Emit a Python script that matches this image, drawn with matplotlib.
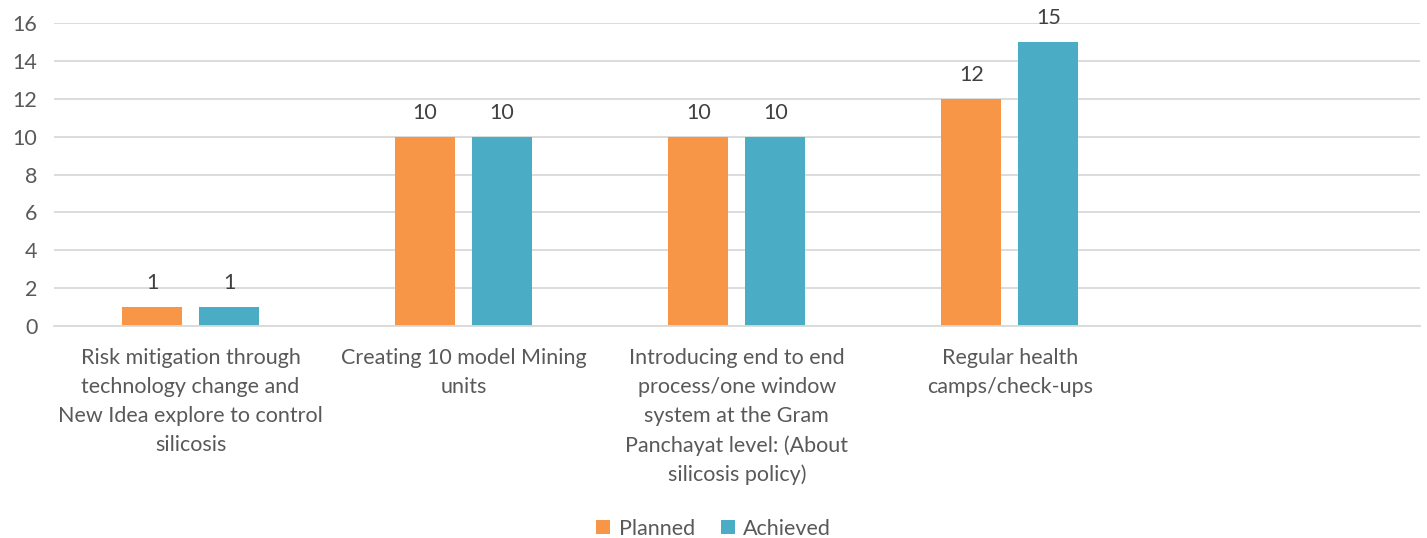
import matplotlib.pyplot as plt
import numpy as np

plt.rcParams['font.family'] = ['Lato', 'DejaVu Sans']

categories = ['Risk mitigation through\ntechnology change and\nNew Idea explore to control\nsilicosis',
              'Creating 10 model Mining\nunits',
              'Introducing end to end\nprocess/one window\nsystem at the Gram\nPanchayat level: (About\nsilicosis policy)',
              'Regular health\ncamps/check-ups',
              '']
planned = [1, 10, 10, 12, None]
achieved = [1, 10, 10, 15, None]

grey = '#595959'
fig = plt.figure(figsize=(14.27, 5.38), dpi=100)
ax = fig.add_axes([0.0378, 0.394, 0.957, 0.563])

x = np.arange(len(categories))
w = 0.22
off = 0.141
pv = [np.nan if v is None else v for v in planned]
av = [np.nan if v is None else v for v in achieved]
b1 = ax.bar(x - off, pv, w, color='#F79646', label='Planned')
b2 = ax.bar(x + off, av, w, color='#4BACC6', label='Achieved')

for bars, vals in [(b1, planned), (b2, achieved)]:
    for b, v in zip(bars, vals):
        if v is None:
            continue
        ax.text(b.get_x() + b.get_width() / 2, v + 0.75, str(v), ha='center', va='bottom',
                fontsize=15.5, color='#404040')

ax.set_xlim(-0.5, len(categories) - 0.5)
ax.set_ylim(0, 16)
ax.set_yticks(range(0, 17, 2))
ax.set_xticks(x)
ax.set_xticklabels(categories, fontsize=15.5, color=grey, linespacing=1.55)
ax.tick_params(axis='y', labelsize=15.5, labelcolor=grey, length=0, pad=12)
ax.tick_params(axis='x', length=0, pad=16)
ax.grid(axis='y', color='#D9D9D9', linewidth=1.3)
ax.set_axisbelow(True)
for s in ['top', 'right', 'left']:
    ax.spines[s].set_visible(False)
ax.spines['bottom'].set_color('#D9D9D9')
ax.spines['bottom'].set_linewidth(1.3)

leg = fig.legend(loc='lower center', bbox_to_anchor=(0.5, -0.037), ncol=2, frameon=False,
                 fontsize=15.5, handlelength=0.65, handleheight=0.65, columnspacing=1.2, handletextpad=0.4)
for t in leg.get_texts():
    t.set_color(grey)

fig.savefig('out.png', dpi=100)
